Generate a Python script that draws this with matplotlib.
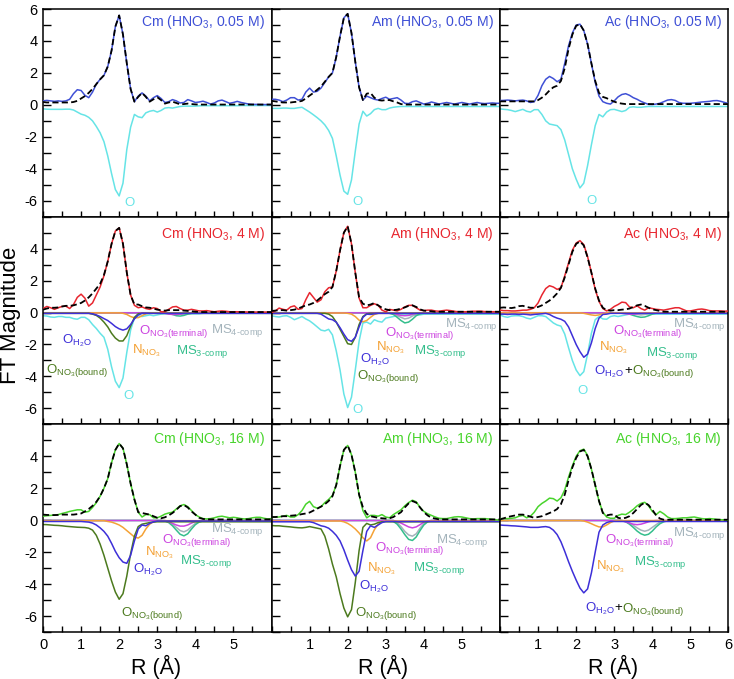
import numpy as np
import matplotlib
matplotlib.use('Agg')
import matplotlib.pyplot as plt
from matplotlib.ticker import MultipleLocator

plt.rcParams['font.family'] = ['Liberation Sans', 'DejaVu Sans']
plt.rcParams['mathtext.fontset'] = 'custom'
plt.rcParams['mathtext.rm'] = 'Liberation Sans'
plt.rcParams['mathtext.it'] = 'Liberation Sans:italic'
plt.rcParams['mathtext.bf'] = 'Liberation Sans:bold'
plt.rcParams['axes.unicode_minus'] = False

# ---------------- data (R grid 0..6 step 0.1) ----------------
R = np.linspace(0, 6, 61)

# Row 1 : 0.05 M
cm005_data = [0.25, 0.28, 0.25, 0.22, 0.25, 0.22, 0.25, 0.35, 0.70, 0.95,
              0.90, 0.60, 0.45, 0.80, 1.30, 1.60, 1.85, 2.40, 3.40, 4.90,
              5.60, 4.40, 2.60, 1.00, 0.20, 0.55, 0.75, 0.55, 0.25, 0.45,
              0.58, 0.40, 0.15, 0.20, 0.33, 0.25, 0.12, 0.15, 0.33, 0.25,
              0.15, 0.18, 0.23, 0.15, 0.05, 0.12, 0.25, 0.30, 0.20, 0.10,
              0.15, 0.22, 0.15, 0.10, 0.05, 0.03, 0.03, 0.02, 0.02, 0.02, 0.02]
cm005_fit = [0.18, 0.15, 0.15, 0.15, 0.15, 0.15, 0.15, 0.15, 0.18, 0.25,
             0.40, 0.55, 0.75, 1.00, 1.30, 1.60, 1.85, 2.40, 3.40, 4.90,
             5.60, 4.40, 2.60, 1.00, 0.20, 0.50, 0.75, 0.50, 0.20, 0.35,
             0.48, 0.30, 0.08, 0.15, 0.20, 0.12, 0.03, 0.05, 0.08, 0.05,
             0.03] + [0.02] * 20
cm005_O = [-0.25, -0.27, -0.28, -0.28, -0.28, -0.28, -0.27, -0.27, -0.32, -0.45,
           -0.58, -0.65, -0.78, -1.00, -1.35, -1.75, -2.30, -3.20, -4.30, -5.30,
           -5.70, -4.90, -2.80, -1.40, -0.60, -0.75, -0.80, -0.50, -0.40, -0.35,
           -0.45, -0.35, -0.20, -0.17, -0.20, -0.15, -0.10, -0.08, -0.08, -0.08,
           -0.08, -0.06] + [-0.05] * 10 + [-0.04] * 9

am005_data = [0.35, 0.35, 0.30, 0.20, 0.30, 0.45, 0.45, 0.30, 0.35, 0.80,
              1.05, 0.80, 0.85, 1.05, 1.40, 1.75, 2.00, 3.00, 4.30, 5.45,
              5.70, 4.50, 2.70, 1.10, 0.30, 0.55, 0.45, 0.35, 0.30, 0.40,
              0.48, 0.35, 0.40, 0.45, 0.30, 0.10, 0.08, 0.20, 0.25, 0.15,
              0.05, 0.10, 0.18, 0.12, 0.05, 0.10, 0.15, 0.10, 0.05, 0.10,
              0.15, 0.10, 0.05, 0.10, 0.15, 0.10, 0.08, 0.10, 0.12, 0.10, 0.10]
am005_fit = [0.25, 0.22, 0.18, 0.15, 0.15, 0.15, 0.18, 0.20, 0.25, 0.40,
             0.58, 0.75, 0.95, 1.15, 1.45, 1.75, 2.00, 3.00, 4.30, 5.45,
             5.70, 4.50, 2.70, 1.10, 0.30, 0.70, 0.75, 0.45, 0.30, 0.27,
             0.30, 0.30, 0.22, 0.15, 0.05] + [0.02] * 26
am005_O = [-0.22, -0.22, -0.22, -0.20, -0.20, -0.22, -0.22, -0.18, -0.15, -0.30,
           -0.45, -0.62, -0.80, -1.00, -1.25, -1.60, -2.10, -3.20, -4.40, -5.40,
           -5.60, -4.70, -2.90, -1.20, -0.40, -0.70, -0.55, -0.30, -0.22, -0.30,
           -0.30, -0.20, -0.15, -0.12] + [-0.10] * 27

ac005_data = [0.27, 0.28, 0.30, 0.28, 0.25, 0.28, 0.30, 0.25, 0.15, 0.20,
              0.60, 1.20, 1.60, 1.78, 1.65, 1.45, 1.60, 2.60, 3.70, 4.50,
              5.00, 5.05, 4.65, 3.80, 2.60, 1.40, 0.55, 0.20, 0.10, 0.05,
              0.25, 0.50, 0.65, 0.70, 0.60, 0.45, 0.35, 0.22, 0.12, 0.03,
              0.02, 0.05, 0.10, 0.20, 0.30, 0.33, 0.28, 0.15, 0.10, 0.10,
              0.10, 0.12, 0.15, 0.18, 0.20, 0.22, 0.26, 0.27, 0.22, 0.15, 0.08]
ac005_fit = [0.22, 0.22, 0.22, 0.22, 0.22, 0.22, 0.22, 0.22, 0.22, 0.22,
             0.30, 0.45, 0.65, 0.90, 1.10, 1.20, 1.50, 2.30, 3.50, 4.40,
             4.95, 5.05, 4.65, 3.80, 2.60, 1.50, 0.75, 0.50, 0.42, 0.30,
             0.20, 0.12, 0.08] + [0.05] * 28
ac005_O = [-0.25, -0.28, -0.30, -0.35, -0.42, -0.35, -0.28, -0.40, -0.45, -0.30,
           -0.30, -0.60, -1.00, -1.20, -1.25, -1.30, -1.55, -2.20, -3.10, -4.00,
           -4.65, -5.20, -4.90, -3.80, -2.50, -1.30, -0.60, -0.75, -0.45, -0.30,
           -0.28, -0.35, -0.42, -0.35, -0.15, -0.12, -0.15, -0.15, -0.12] + [-0.10] * 22

# Row 2 : 4 M
cm4_data = [0.25, 0.38, 0.30, 0.20, 0.30, 0.38, 0.40, 0.25, 0.50, 0.95,
            1.15, 0.90, 0.40, 0.60, 1.10, 1.60, 2.30, 3.20, 4.30, 5.10,
            5.30, 4.30, 2.50, 1.10, 0.45, 0.30, 0.35, 0.25, 0.20, 0.30,
            0.25, 0.05, 0.05, 0.20, 0.35, 0.38, 0.25, 0.15, 0.15, 0.20,
            0.15, 0.10, 0.10, 0.12, 0.08, 0.05, 0.08, 0.10, 0.08, 0.05,
            0.05, 0.05, 0.04, 0.04, 0.03, 0.03, 0.03, 0.03, 0.03, 0.03, 0.03]
cm4_fit = [0.18, 0.25, 0.30, 0.30, 0.32, 0.38, 0.42, 0.42, 0.45, 0.52,
           0.60, 0.75, 0.95, 1.20, 1.50, 1.80, 2.35, 3.20, 4.30, 5.10,
           5.30, 4.30, 2.50, 1.10, 0.50, 0.50, 0.40, 0.32, 0.30, 0.25,
           0.18, 0.15, 0.12, 0.15, 0.15, 0.15, 0.15, 0.12, 0.10, 0.08,
           0.05, 0.04] + [0.03] * 19
cm4_O = [-0.20, -0.22, -0.28, -0.30, -0.25, -0.25, -0.30, -0.30, -0.38, -0.42,
         -0.30, -0.30, -0.45, -0.75, -1.00, -1.30, -1.55, -2.30, -3.40, -4.30,
         -4.70, -4.10, -2.50, -1.10, -0.35, -0.20, -0.25, -0.20, -0.15, -0.20,
         -0.15, -0.10] + [-0.08] * 10 + [-0.05] * 19
cm4_H2O = ([-0.05] * 13 + [-0.08, -0.15, -0.25, -0.38, -0.50, -0.68, -0.88]
           + [-1.02, -1.10, -1.02, -0.75, -0.40, -0.15] + [-0.05] * 35)
cm4_bound = ([-0.05] * 13 + [-0.10, -0.18, -0.35, -0.60, -0.90, -1.30, -1.60]
             + [-1.78, -1.78, -1.45, -0.85, -0.30, -0.08] + [-0.05] * 35)
cm4_N = [-0.02] * 21 + [-0.05, -0.12, -0.25, -0.33, -0.32, -0.20, -0.08, -0.03] + [-0.02] * 32
cm4_term = [-0.02] * 32 + [-0.05, -0.10, -0.12, -0.12, -0.10, -0.06] + [-0.02] * 23
cm4_ms3 = [-0.02] * 33 + [-0.05, -0.12, -0.20, -0.22, -0.18, -0.10, -0.05] + [-0.02] * 21
cm4_ms4 = [-0.01] * 34 + [-0.05, -0.08, -0.10, -0.08, -0.04] + [-0.01] * 22

am4_data = [0.00, 0.10, 0.28, 0.20, 0.15, 0.35, 0.42, 0.20, 0.25, 0.80,
            1.25, 0.95, 0.65, 0.80, 1.30, 1.55, 1.60, 2.60, 3.90, 5.00,
            5.40, 4.30, 2.50, 0.90, 0.30, 0.30, 0.45, 0.55, 0.45, 0.15,
            0.05, 0.20, 0.15, 0.10, 0.20, 0.35, 0.45, 0.45, 0.30, 0.15,
            0.12, 0.15, 0.15, 0.10, 0.08, 0.12, 0.15, 0.12, 0.08, 0.05,
            0.05, 0.05, 0.06, 0.08, 0.08, 0.08, 0.06, 0.05, 0.05, 0.05, 0.05]
am4_fit = [0.10, 0.12, 0.15, 0.15, 0.12, 0.15, 0.18, 0.25, 0.35, 0.45,
           0.50, 0.60, 0.75, 0.95, 1.15, 1.30, 1.60, 2.60, 3.90, 5.00,
           5.40, 4.30, 2.50, 0.95, 0.55, 0.45, 0.50, 0.60, 0.45, 0.30,
           0.20, 0.15, 0.15, 0.18, 0.25, 0.32, 0.42, 0.45, 0.35, 0.20,
           0.12, 0.10, 0.08] + [0.05] * 18
am4_O = [-0.20, -0.25, -0.28, -0.22, -0.20, -0.30, -0.45, -0.35, -0.25, -0.40,
         -0.52, -0.70, -0.90, -1.10, -1.15, -1.05, -1.40, -2.40, -3.60, -5.10,
         -5.95, -5.30, -3.60, -1.80, -0.65, -0.60, -0.72, -0.45, -0.55, -0.60,
         -0.35, -0.30, -0.25, -0.20] + [-0.15] * 6 + [-0.10] * 21
am4_H2O = ([-0.05] * 13 + [-0.10, -0.25, -0.40, -0.45, -0.60, -0.95, -1.35]
           + [-1.70, -1.80, -1.55, -0.90, -0.30, -0.10, -0.12, -0.08] + [-0.05] * 33)
am4_bound = ([-0.05] * 15 + [-0.10, -0.25, -0.60, -1.05, -1.50]
             + [-1.95, -2.00, -1.55, -0.75, -0.25, -0.08] + [-0.05] * 35)
am4_N = [-0.03] * 20 + [-0.05, -0.10, -0.25, -0.48, -0.58, -0.50, -0.30, -0.12, -0.05] + [-0.03] * 32
am4_term = [-0.02] * 32 + [-0.05, -0.12, -0.18, -0.20, -0.18, -0.10, -0.05] + [-0.02] * 22
am4_ms3 = [-0.02] * 31 + [-0.05, -0.12, -0.30, -0.50, -0.65, -0.60, -0.42, -0.20, -0.08, -0.03] + [-0.02] * 20
am4_ms4 = [-0.01] * 32 + [-0.08, -0.20, -0.30, -0.40, -0.35, -0.22, -0.10, -0.03] + [-0.01] * 21

ac4_data = [0.15, 0.12, 0.12, 0.10, 0.10, 0.12, 0.15, 0.15, 0.20, 0.30,
            0.60, 1.10, 1.50, 1.68, 1.60, 1.45, 1.55, 2.30, 3.10, 3.90,
            4.35, 4.50, 4.25, 3.50, 2.50, 1.45, 0.70, 0.25, 0.10, 0.20,
            0.38, 0.50, 0.65, 0.62, 0.35, 0.30, 0.42, 0.25, 0.15, 0.30,
            0.25, 0.20, 0.18, 0.15, 0.20, 0.25, 0.30, 0.30, 0.20, 0.10,
            0.10, 0.15, 0.20, 0.22, 0.18, 0.12, 0.10, 0.10, 0.10, 0.08, 0.10]
ac4_fit = [0.30, 0.32, 0.30, 0.28, 0.32, 0.40, 0.42, 0.35, 0.30, 0.30,
           0.35, 0.45, 0.60, 0.75, 0.95, 1.20, 1.55, 2.20, 3.00, 3.80,
           4.30, 4.45, 4.20, 3.45, 2.50, 1.50, 0.75, 0.30, 0.15, 0.12,
           0.15, 0.15, 0.18, 0.20, 0.25, 0.35, 0.45, 0.50, 0.42, 0.30,
           0.20, 0.15, 0.10] + [0.05] * 18
ac4_O = [-0.15, -0.25, -0.30, -0.22, -0.20, -0.20, -0.25, -0.35, -0.40, -0.30,
         -0.20, -0.20, -0.25, -0.45, -0.65, -0.78, -0.85, -1.35, -2.20, -3.00,
         -3.60, -3.95, -3.70, -2.60, -1.30, -0.45, -0.25, -0.40, -0.42, -0.25,
         -0.20, -0.25, -0.20, -0.15] + [-0.10] * 27
ac4_OH = ([-0.10, -0.10, -0.12, -0.10, -0.10, -0.12, -0.10, -0.12, -0.15, -0.12,
           -0.10, -0.08, -0.05, -0.12, -0.25, -0.35, -0.42, -0.55, -0.90, -1.45,
           -2.00, -2.45, -2.80, -2.60, -1.90, -1.00, -0.35, -0.12, -0.10, -0.05]
          + [-0.05] * 31)
ac4_N = [-0.02] * 22 + [-0.05, -0.10, -0.15, -0.18, -0.15, -0.08] + [-0.02] * 33
ac4_term = [-0.02] * 32 + [-0.05, -0.08, -0.10, -0.10, -0.08, -0.05] + [-0.02] * 23
ac4_ms3 = [-0.02] * 33 + [-0.05, -0.10, -0.18, -0.25, -0.30, -0.28, -0.20, -0.10, -0.04] + [-0.02] * 19
ac4_ms4 = [-0.01] * 34 + [-0.05, -0.08, -0.12, -0.15, -0.12, -0.08, -0.04] + [-0.01] * 20

# Row 3 : 16 M
cm16_data = [0.25, 0.28, 0.30, 0.32, 0.35, 0.42, 0.48, 0.55, 0.60, 0.65,
             0.65, 0.50, 0.55, 0.80, 1.10, 1.50, 2.00, 2.60, 3.60, 4.40,
             4.80, 4.50, 3.50, 2.30, 1.30, 0.50, 0.20, 0.35, 0.35, 0.15,
             0.15, 0.25, 0.38, 0.45, 0.50, 0.70, 0.90, 0.98, 0.85, 0.60,
             0.35, 0.20, 0.10, 0.08, 0.10, 0.15, 0.22, 0.25, 0.20, 0.15,
             0.18, 0.15, 0.10, 0.08, 0.10, 0.15, 0.18, 0.18, 0.12, 0.08, 0.10]
cm16_fit = [0.35, 0.33, 0.32, 0.32, 0.33, 0.35, 0.35, 0.35, 0.35, 0.38,
            0.42, 0.55, 0.70, 0.90, 1.15, 1.50, 2.00, 2.60, 3.60, 4.40,
            4.80, 4.50, 3.50, 2.30, 1.30, 0.50, 0.45, 0.40, 0.35, 0.25,
            0.15, 0.12, 0.18, 0.30, 0.45, 0.65, 0.88, 0.95, 0.80, 0.55,
            0.35, 0.15, 0.08] + [0.05] * 18
cm16_bound = ([-0.27, -0.28, -0.30, -0.32, -0.33, -0.35, -0.38, -0.40, -0.42, -0.44,
               -0.45, -0.46, -0.50, -0.62, -0.95, -1.50, -2.20, -3.00, -3.80, -4.50,
               -4.95, -4.60, -3.50, -2.10, -1.00, -0.40, -0.25, -0.20, -0.15, -0.12]
              + [-0.10] * 31)
cm16_H2O = ([-0.08] * 11 + [-0.10, -0.12, -0.18, -0.30, -0.48, -0.70, -1.00, -1.45, -1.95]
            + [-2.35, -2.62, -2.70, -2.20, -1.30, -0.55, -0.30, -0.35, -0.20, -0.10] + [-0.05] * 31)
cm16_N = ([-0.03] * 17 + [-0.08, -0.12, -0.20]
          + [-0.30, -0.45, -0.65, -0.85, -1.05, -1.12, -0.95, -0.55, -0.25, -0.10, -0.05] + [-0.03] * 30)
cm16_term = [-0.02] * 32 + [-0.05, -0.10, -0.20, -0.30, -0.37, -0.37, -0.30, -0.18, -0.08, -0.03] + [-0.02] * 19
cm16_ms3 = [-0.02] * 32 + [-0.05, -0.15, -0.35, -0.62, -0.88, -0.98, -0.85, -0.55, -0.28, -0.12, -0.05] + [-0.02] * 18
cm16_ms4 = [-0.01] * 33 + [-0.10, -0.25, -0.45, -0.65, -0.73, -0.62, -0.40, -0.20, -0.08] + [-0.01] * 19

am16_data = [0.19, 0.19, 0.20, 0.25, 0.30, 0.20, 0.20, 0.35, 0.60, 1.00,
             1.18, 0.85, 0.75, 0.85, 1.10, 1.30, 1.55, 2.20, 3.40, 4.40,
             4.68, 4.10, 3.00, 1.60, 0.60, 0.15, 0.30, 0.30, 0.25, 0.35,
             0.20, 0.15, 0.35, 0.50, 0.65, 0.90, 1.10, 1.25, 1.15, 0.80,
             0.55, 0.40, 0.30, 0.20, 0.12, 0.10, 0.10, 0.15, 0.20, 0.22,
             0.20, 0.15, 0.10, 0.08, 0.10, 0.10, 0.10, 0.08, 0.05, 0.02, 0.00]
am16_fit = [0.20, 0.20, 0.22, 0.25, 0.25, 0.28, 0.30, 0.33, 0.38, 0.42,
            0.48, 0.60, 0.72, 0.85, 1.00, 1.20, 1.50, 2.20, 3.40, 4.40,
            4.68, 4.10, 3.00, 1.60, 0.80, 0.40, 0.25, 0.20, 0.15, 0.12,
            0.10, 0.12, 0.20, 0.35, 0.50, 0.80, 1.05, 1.20, 1.10, 0.80,
            0.50, 0.30, 0.15, 0.10] + [0.05] * 17
am16_bound = ([-0.33, -0.35, -0.35, -0.38, -0.40, -0.42, -0.45, -0.47, -0.48, -0.45,
               -0.40, -0.45, -0.50, -0.55, -1.00, -1.80, -2.75, -3.55, -4.60, -5.50,
               -6.05, -5.60, -3.90, -1.90, -0.45, -0.20, -0.30, -0.25, -0.15, -0.10]
              + [-0.10] * 31)
am16_H2O = ([-0.10] * 11 + [-0.15, -0.25, -0.35, -0.40, -0.50, -0.70, -0.95, -1.30, -1.85]
            + [-2.50, -3.10, -3.50, -3.20, -1.90, -0.70, -0.35, -0.45, -0.30, -0.15] + [-0.08] * 31)
am16_N = ([-0.05] * 19 + [-0.10]
          + [-0.20, -0.35, -0.55, -0.80, -1.10, -1.30, -1.10, -0.60, -0.25, -0.10] + [-0.05] * 31)
am16_term = [-0.02] * 33 + [-0.08, -0.18, -0.30, -0.42, -0.48, -0.42, -0.28, -0.12, -0.05] + [-0.02] * 19
am16_ms3 = [-0.02] * 32 + [-0.08, -0.25, -0.55, -0.90, -1.20, -1.27, -1.05, -0.65, -0.30, -0.10, -0.05] + [-0.02] * 18
am16_ms4 = [-0.01] * 33 + [-0.15, -0.40, -0.70, -0.92, -1.00, -0.85, -0.50, -0.22, -0.08] + [-0.01] * 19

ac16_data = [0.10, 0.10, 0.10, 0.12, 0.15, 0.25, 0.30, 0.15, 0.25, 0.50,
             0.85, 1.05, 1.20, 1.38, 1.35, 1.20, 1.40, 1.90, 2.70, 3.40,
             4.00, 4.35, 4.45, 4.05, 3.20, 2.20, 1.20, 0.50, 0.20, 0.12,
             0.12, 0.30, 0.38, 0.35, 0.50, 0.68, 0.90, 1.05, 1.12, 0.90,
             0.55, 0.35, 0.55, 0.40, 0.20, 0.10, 0.10, 0.12, 0.15, 0.15,
             0.18, 0.20, 0.15, 0.10, 0.08, 0.10, 0.08, 0.05, 0.03, 0.02, 0.00]
ac16_fit = [0.05, 0.12, 0.20, 0.25, 0.30, 0.35, 0.35, 0.30, 0.22, 0.15,
            0.20, 0.25, 0.35, 0.45, 0.55, 0.70, 1.00, 1.60, 2.50, 3.30,
            3.90, 4.30, 4.40, 4.00, 3.20, 2.20, 1.20, 0.45, 0.30, 0.35,
            0.35, 0.15, 0.10, 0.15, 0.25, 0.45, 0.70, 0.95, 1.10, 0.95,
            0.65, 0.30, 0.10] + [0.03] * 18
ac16_OH = ([-0.30, -0.32, -0.33, -0.35, -0.36, -0.38, -0.40, -0.42, -0.45, -0.45,
            -0.45, -0.42, -0.40, -0.45, -0.62, -0.90, -1.35, -1.95, -2.60, -3.20,
            -3.75, -4.25, -4.55, -4.30, -3.30, -2.00, -0.75, -0.30, -0.15, -0.08]
           + [-0.08] * 31)
ac16_N = [-0.02] * 22 + [-0.05, -0.12, -0.22, -0.33, -0.42, -0.42, -0.30, -0.15, -0.05] + [-0.02] * 30
ac16_term = [-0.02] * 32 + [-0.05, -0.10, -0.18, -0.25, -0.28, -0.25, -0.18, -0.10, -0.04] + [-0.02] * 20
ac16_ms3 = ([-0.02] * 33 + [-0.10, -0.25, -0.45, -0.68, -0.85, -0.94, -0.88, -0.68, -0.42, -0.22, -0.10, -0.04]
            + [-0.02] * 16)
ac16_ms4 = ([-0.01] * 33 + [-0.08, -0.18, -0.32, -0.48, -0.62, -0.69, -0.62, -0.45, -0.28, -0.12, -0.05]
            + [-0.01] * 17)

titles = [['Cm (HNO$_3$, 0.05 M)', 'Am (HNO$_3$, 0.05 M)', 'Ac (HNO$_3$, 0.05 M)'],
          ['Cm (HNO$_3$, 4 M)', 'Am (HNO$_3$, 4 M)', 'Ac (HNO$_3$, 4 M)'],
          ['Cm (HNO$_3$, 16 M)', 'Am (HNO$_3$, 16 M)', 'Ac (HNO$_3$, 16 M)']]
x_tick_labels = [['0', '1', '2', '3', '4', '5', ''],
                 ['', '1', '2', '3', '4', '5', ''],
                 ['', '1', '2', '3', '4', '5', '6']]

# ---------------- styles ----------------
C_BLUE = '#3f50d6'
C_RED = '#e8262f'
C_GREEN = '#48d42c'
C_CYAN = '#66e4e6'
C_H2O = '#3d2fd8'
C_BOUND = '#4c7a1e'
C_N = '#f4a236'
C_TERM = '#cc44e0'
C_MS3 = '#34be8c'
C_MS4 = '#a3b3bb'

L_O = 'O'
L_H2O = r'O$_{\mathrm{H_2O}}$'
L_TERM = r'O$_{\mathrm{NO_3(terminal)}}$'
L_BOUND = r'O$_{\mathrm{NO_3(bound)}}$'
L_N = r'N$_{\mathrm{NO_3}}$'
L_MS3 = 'MS$_{\\mathrm{3\u2010comp}}$'
L_MS4 = 'MS$_{\\mathrm{4\u2010comp}}$'

row_colors = [C_BLUE, C_RED, C_GREEN]

# labels: (text, color, x, y_center, ha); ha == 'chain' -> placed right after previous label
panels = [
    [dict(data=cm005_data, fit=cm005_fit, comps=[(cm005_O, C_CYAN)],
          labels=[(L_O, C_CYAN, 2.27, -6.0, 'center')]),
     dict(data=am005_data, fit=am005_fit, comps=[(am005_O, C_CYAN)],
          labels=[(L_O, C_CYAN, 2.25, -5.94, 'center')]),
     dict(data=ac005_data, fit=ac005_fit, comps=[(ac005_O, C_CYAN)],
          labels=[(L_O, C_CYAN, 2.39, -5.9, 'center')])],
    [dict(data=cm4_data, fit=cm4_fit,
          comps=[(cm4_O, C_CYAN), (cm4_ms4, C_MS4), (cm4_ms3, C_MS3), (cm4_term, C_TERM),
                 (cm4_N, C_N), (cm4_bound, C_BOUND), (cm4_H2O, C_H2O)],
          labels=[(L_H2O, C_H2O, 0.5, -1.6, 'left'), (L_TERM, C_TERM, 2.52, -1.05, 'left'),
                  (L_MS4, C_MS4, 4.42, -0.98, 'left'), (L_N, C_N, 2.34, -2.25, 'left'),
                  (L_MS3, C_MS3, 3.5, -2.3, 'left'), (L_BOUND, C_BOUND, 0.08, -3.45, 'left'),
                  (L_O, C_CYAN, 2.25, -5.1, 'center')]),
     dict(data=am4_data, fit=am4_fit,
          comps=[(am4_O, C_CYAN), (am4_ms4, C_MS4), (am4_ms3, C_MS3), (am4_term, C_TERM),
                 (am4_N, C_N), (am4_bound, C_BOUND), (am4_H2O, C_H2O)],
          labels=[(L_TERM, C_TERM, 2.98, -1.15, 'left'), (L_MS4, C_MS4, 4.55, -0.6, 'left'),
                  (L_N, C_N, 2.74, -2.05, 'left'), (L_MS3, C_MS3, 3.73, -2.3, 'left'),
                  (L_H2O, C_H2O, 2.32, -2.82, 'left'), (L_BOUND, C_BOUND, 2.25, -3.85, 'left'),
                  (L_O, C_CYAN, 2.26, -5.96, 'center')]),
     dict(data=ac4_data, fit=ac4_fit,
          comps=[(ac4_O, C_CYAN), (ac4_ms4, C_MS4), (ac4_ms3, C_MS3), (ac4_term, C_TERM),
                 (ac4_N, C_N), (ac4_OH, C_H2O)],
          labels=[(L_TERM, C_TERM, 2.96, -1.0, 'left'), (L_MS4, C_MS4, 4.55, -0.58, 'left'),
                  (L_N, C_N, 2.6, -2.05, 'left'), (L_MS3, C_MS3, 3.84, -2.4, 'left'),
                  (L_H2O, C_H2O, 2.48, -3.55, 'left'), ('+', 'black', 0, -3.55, 'chain'),
                  (L_BOUND, C_BOUND, 0, -3.55, 'chain'),
                  (L_O, C_CYAN, 2.16, -4.8, 'center')])],
    [dict(data=cm16_data, fit=cm16_fit,
          comps=[(cm16_ms4, C_MS4), (cm16_ms3, C_MS3), (cm16_term, C_TERM),
                 (cm16_N, C_N), (cm16_bound, C_BOUND), (cm16_H2O, C_H2O)],
          labels=[(L_TERM, C_TERM, 3.12, -1.1, 'left'), (L_MS4, C_MS4, 4.42, -0.42, 'left'),
                  (L_N, C_N, 2.67, -1.92, 'left'), (L_MS3, C_MS3, 3.61, -2.4, 'left'),
                  (L_H2O, C_H2O, 2.36, -2.95, 'left'), (L_BOUND, C_BOUND, 2.05, -5.7, 'left')]),
     dict(data=am16_data, fit=am16_fit,
          comps=[(am16_ms4, C_MS4), (am16_ms3, C_MS3), (am16_term, C_TERM),
                 (am16_N, C_N), (am16_bound, C_BOUND), (am16_H2O, C_H2O)],
          labels=[(L_TERM, C_TERM, 2.72, -1.63, 'left'), (L_MS4, C_MS4, 4.32, -1.1, 'left'),
                  (L_N, C_N, 2.5, -2.88, 'left'), (L_MS3, C_MS3, 3.71, -2.88, 'left'),
                  (L_H2O, C_H2O, 2.31, -4.03, 'left'), (L_BOUND, C_BOUND, 2.19, -5.7, 'left')]),
     dict(data=ac16_data, fit=ac16_fit,
          comps=[(ac16_ms4, C_MS4), (ac16_ms3, C_MS3), (ac16_term, C_TERM),
                 (ac16_N, C_N), (ac16_OH, C_H2O)],
          labels=[(L_TERM, C_TERM, 2.75, -1.1, 'left'), (L_MS4, C_MS4, 4.54, -0.65, 'left'),
                  (L_N, C_N, 2.53, -2.78, 'left'), (L_MS3, C_MS3, 3.51, -2.47, 'left'),
                  (L_H2O, C_H2O, 2.22, -5.4, 'left'), ('+', 'black', 0, -5.4, 'chain'),
                  (L_BOUND, C_BOUND, 0, -5.4, 'chain')])],
]

title_y = [0.916, 0.895, 0.91]
LABEL_FS = 9.5

fig, axes = plt.subplots(3, 3, figsize=(7.34, 6.79), dpi=100)
fig.subplots_adjust(left=0.0586, right=0.9925, bottom=0.0692, top=0.9867, wspace=0, hspace=0)

for r in range(3):
    for c in range(3):
        ax = axes[r, c]
        p = panels[r][c]
        for vals, col in p['comps']:
            assert len(vals) == len(R)
            ax.plot(R, vals, color=col, lw=1.1, zorder=2)
        assert len(p['data']) == len(R) and len(p['fit']) == len(R)
        ax.plot(R, p['data'], color=row_colors[r], lw=1.1, zorder=3)
        ax.plot(R, p['fit'], color='black', lw=1.3, dashes=(3.4, 1.8), zorder=4)
        prev = None
        for txt, col, x, y, ha in p['labels']:
            if ha == 'chain':
                prev = ax.annotate(txt, xy=(1, y - 0.31), xycoords=(prev, 'data'),
                                   color=col, fontsize=LABEL_FS, ha='left', va='baseline',
                                   zorder=5)
            else:
                prev = ax.text(x, y - 0.31, txt, color=col, fontsize=LABEL_FS, ha=ha,
                               va='baseline', zorder=5)
        ax.text(0.972, title_y[r], titles[r][c], color=row_colors[r], fontsize=10.1,
                ha='right', va='baseline', transform=ax.transAxes)
        ax.set_xlim(0, 6)
        ax.set_ylim(-7, 6)
        ax.set_xticks(range(7))
        ax.xaxis.set_minor_locator(MultipleLocator(0.5))
        ax.set_yticks([-6, -4, -2, 0, 2, 4, 6])
        ax.yaxis.set_minor_locator(MultipleLocator(1))
        ax.tick_params(axis='both', which='both', direction='in', top=False, right=False,
                       width=1.0, labelsize=10.5)
        ax.tick_params(axis='x', which='both', length=4.5, pad=4)
        ax.tick_params(axis='y', which='both', length=5.5, pad=4)
        for s in ax.spines.values():
            s.set_linewidth(1.1)
        if r == 2:
            ax.set_xticklabels(x_tick_labels[c])
        else:
            ax.tick_params(axis='x', labelbottom=False)
        if c == 0:
            if r == 0:
                ax.set_yticklabels(['-6', '-4', '-2', '0', '2', '4', '6'])
            else:
                ax.set_yticklabels(['-6', '-4', '-2', '0', '2', '4', ''])
        else:
            ax.tick_params(axis='y', labelleft=False)

fig.text(0.014, 0.536, 'FT Magnitude', rotation=90, fontsize=16, ha='center', va='center')
for xc in [0.212, 0.5225, 0.835]:
    fig.text(xc, 0.0074, 'R (Å)', fontsize=15.5, ha='center', va='baseline')

fig.savefig('out.png', dpi=100)
